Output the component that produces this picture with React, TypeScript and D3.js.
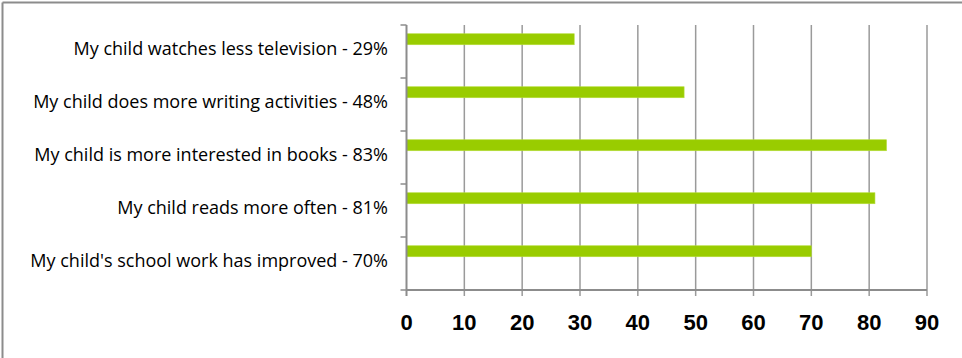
import React from "react";
import * as d3 from "d3";

const categories = [
  "My child watches less television - 29%",
  "My child does more writing activities - 48%",
  "My child is more interested in books - 83%",
  "My child reads more often - 81%",
  "My child's school work has improved - 70%",
];
const values = [29, 48, 83, 81, 70];
const xTicks = [0, 10, 20, 30, 40, 50, 60, 70, 80, 90];

const W = 962;
const H = 358;
const plot = { left: 406.5, right: 927, top: 25, bottom: 290 };

export default function App() {
  const x = d3.scaleLinear().domain([0, 90]).range([plot.left, plot.right]);
  const y = d3
    .scaleBand<string>()
    .domain(categories)
    .range([plot.top, plot.bottom])
    .paddingInner(0)
    .paddingOuter(0);
  const bw = y.bandwidth();
  const barOffset = bw * 0.165;
  const barH = 11;

  return (
    <svg
      width={W}
      height={H}
      style={{ position: "fixed", left: 0, top: 0, background: "#fff", display: "block" }}
    >
      <rect x={0} y={0} width={W} height={H} fill="#fff" />
      {/* outer frame (top and left visible) */}
      <line x1={2.5} x2={W} y1={2.5} y2={2.5} stroke="#8c8c8c" strokeWidth={2} />
      <line x1={2.5} x2={2.5} y1={2.5} y2={H} stroke="#8c8c8c" strokeWidth={2} />
      {/* gridlines */}
      {xTicks.slice(1).map((t) => (
        <line
          key={"g" + t}
          x1={x(t)}
          x2={x(t)}
          y1={plot.top}
          y2={plot.bottom + 6}
          stroke="#9a9a9a"
          strokeWidth={1.5}
        />
      ))}
      {/* bars */}
      {categories.map((c, i) => (
        <rect
          key={c}
          x={x(0)}
          y={(y(c) as number) + barOffset}
          width={x(values[i]) - x(0)}
          height={barH}
          fill="#99cc00"
          stroke="#b5dd3a"
          strokeWidth={0.6}
        />
      ))}
      {/* y axis */}
      <line x1={plot.left} x2={plot.left} y1={plot.top} y2={plot.bottom + 6} stroke="#8c8c8c" strokeWidth={2} />
      {categories.concat(["__end"]).map((c, i) => {
        const yy = plot.top + i * bw;
        return (
          <line key={"yt" + i} x1={plot.left - 6} x2={plot.left} y1={yy} y2={yy} stroke="#8c8c8c" strokeWidth={1.5} />
        );
      })}
      {/* x axis */}
      <line x1={plot.left} x2={plot.right} y1={plot.bottom} y2={plot.bottom} stroke="#8c8c8c" strokeWidth={2} />
      {xTicks.map((t) => (
        <text
          key={"xl" + t}
          x={x(t)}
          y={324}
          textAnchor="middle"
          dominantBaseline="middle"
          fontFamily="Liberation Sans, Arial, sans-serif"
          fontWeight="bold"
          fontSize={22}
          fill="#000"
        >
          {t}
        </text>
      ))}
      {/* category labels */}
      {categories.map((c) => (
        <text
          key={"cl" + c}
          x={388}
          y={(y(c) as number) + bw / 2 - 1.5}
          textAnchor="end"
          dominantBaseline="middle"
          fontFamily="Open Sans, sans-serif"
          fontSize={18}
          fill="#000"
        >
          {c}
        </text>
      ))}
    </svg>
  );
}
